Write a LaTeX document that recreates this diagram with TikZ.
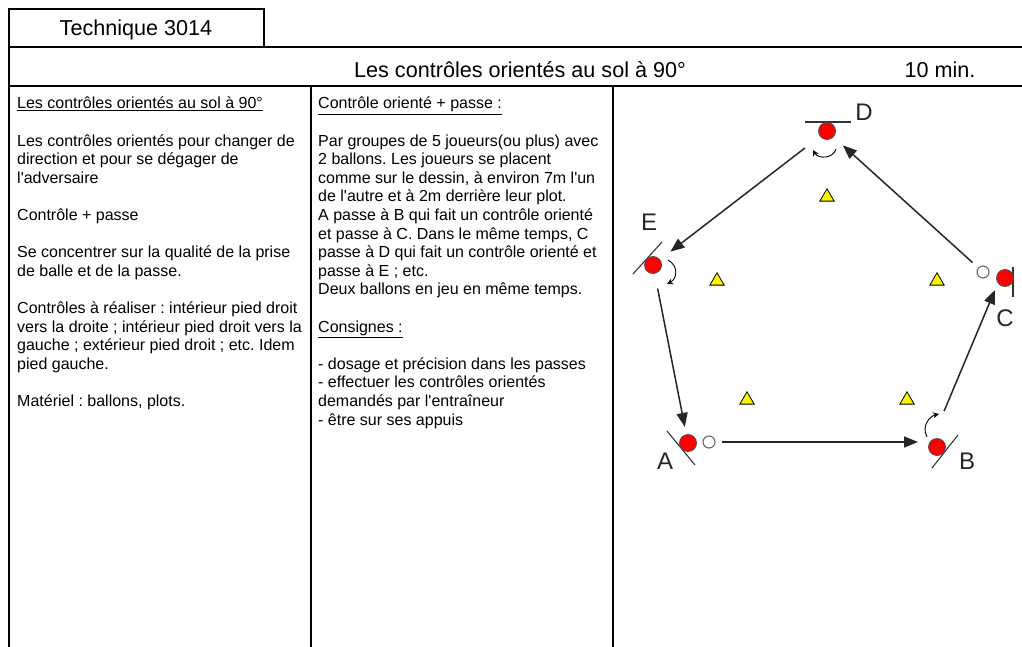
\documentclass[tikz,border=0pt]{standalone}
\usepackage{fontspec}
\setmainfont{Liberation Sans}[Ligatures=TeXOff]
\usetikzlibrary{arrows.meta,shapes.geometric}
\frenchspacing

\begin{document}
\begin{tikzpicture}[x = 1pt, y = -1pt,
    sheet/.style = {line width = 2pt},
    headtxt/.style = {font = \fontsize{21.6}{24}\selectfont},
    txt/.style = {anchor = north west, align = left, inner sep = 0pt, font = \fontsize{16}{18.6}\selectfont},
    player/.style = {draw = black!70, circle, fill = red, minimum size = 17pt, inner sep = 0pt, line width = 0.8pt},
    ball/.style = {draw = black!60, circle, fill = white, minimum size = 12pt, inner sep = 0pt, line width = 1.1pt},
    cone/.style = {draw, regular polygon, regular polygon sides = 3, fill = yellow, minimum size = 16.5pt, inner sep = 0pt, line width = 0.8pt},
    lbl/.style = {font = \fontsize{24}{24}\selectfont, text = black!85},
    wall/.style = {line width = 1.1pt, black!80},
    spin/.style = {-{Stealth[length = 6pt, width = 6pt]}, line width = 0.9pt},
    pass/.style = {-{Triangle[length = 14pt, width = 11pt]}, line width = 1.5pt, black!85}]
    \useasboundingbox (0,0) rectangle (1022,647);
    \clip (0,0) rectangle (1022,647);

    \draw[sheet] (9,9) rectangle (264,47);
    \draw[sheet] (9,47) -- (1030,47);
    \draw[sheet] (9,86) -- (1030,86);
    \draw[sheet] (9,9) -- (9,660);
    \draw[sheet] (311,86) -- (311,660);
    \draw[sheet] (613,86) -- (613,660);

    \node[headtxt](tech) at (136,30) {Technique 3014};
    \node[headtxt](head) at (520,69.5) {Les contrôles orientés au sol à 90°};
    \node[headtxt](time) at (940,69.5) {10 min.};

    \node[txt](intro) at (17,97) {\underline{Les contrôles orientés au sol à 90°}\\[18.6pt]
        Les contrôles orientés pour changer de\\
        direction et pour se dégager de\\
        l'adversaire\\[18.6pt]
        Contrôle + passe\\[18.6pt]
        Se concentrer sur la qualité de la prise\\
        de balle et de la passe.\\[18.6pt]
        Contrôles à réaliser : intérieur pied droit\\
        vers la droite ; intérieur pied droit vers la\\
        gauche ; extérieur pied droit ; etc. Idem\\
        pied gauche.\\[18.6pt]
        Matériel : ballons, plots.};

    \node[txt](rules) at (318,97) {\underline{Contrôle orienté + passe :}\\[18.6pt]
        Par groupes de 5 joueurs(ou plus) avec\\
        2 ballons. Les joueurs se placent\\
        comme sur le dessin, à environ 7m l'un\\
        de l'autre et à 2m derrière leur plot.\\
        A passe à B qui fait un contrôle orienté\\
        et passe à C. Dans le même temps, C\\
        passe à D qui fait un contrôle orienté et\\
        passe à E ; etc.\\
        Deux ballons en jeu en même temps.\\[18.6pt]
        \underline{Consignes :}\\[18.6pt]
        - dosage et précision dans les passes\\
        - effectuer les contrôles orientés\\
        demandés par l'entraîneur\\
        - être sur ses appuis};

    \draw[wall] (805,122) -- (851,122);
    \draw[wall] (633,274) -- (662,242);
    \draw[wall] (667,431) -- (695,465);
    \draw[wall] (932,468) -- (958,435);
    \draw[wall] (1013,267) -- (1013,297);

    \node[player](D) at (827,131) {};
    \node[player](E) at (653,265) {};
    \node[player](A) at (688,443) {};
    \node[player](B) at (937,447) {};
    \node[player](C) at (1005,278) {};
    \node[ball](ballA) at (709,442) {};
    \node[ball](ballC) at (983,272) {};

    \node[cone](c1) at (827,197) {};
    \node[cone](c2) at (717,281) {};
    \node[cone](c3) at (937,281) {};
    \node[cone](c4) at (747,400) {};
    \node[cone](c5) at (907,400) {};

    \node[lbl](lD) at (864,112) {D};
    \node[lbl](lE) at (649,222) {E};
    \node[lbl](lA) at (665,461) {A};
    \node[lbl](lB) at (967,461) {B};
    \node[lbl](lC) at (1005,318) {C};

    \draw[spin] (836,149) .. controls (833,159) and (818,159) .. (813,150);
    \draw[spin] (668,260) .. controls (679,266) and (677,279) .. (667,284);
    \draw[spin] (927,437) .. controls (921,426) and (930,416) .. (939,414);

    \draw[pass, shorten <= 6.5pt, shorten >= 19pt](ballA) -- (ballA -| B);
    \draw[pass, shorten <= 39pt, shorten >= 13pt]([xshift = -8pt]B.center) -- ([xshift = -5pt]C.center);
    \draw[pass, shorten <= 7.5pt, shorten >= 12.5pt](ballC) -- (D);
    \draw[pass, shorten <= 19pt, shorten >= 13pt](D) -- (E);
    \draw[pass, shorten <= 15pt, shorten >= 7.5pt](E) -- (A);
\end{tikzpicture}
\end{document}
